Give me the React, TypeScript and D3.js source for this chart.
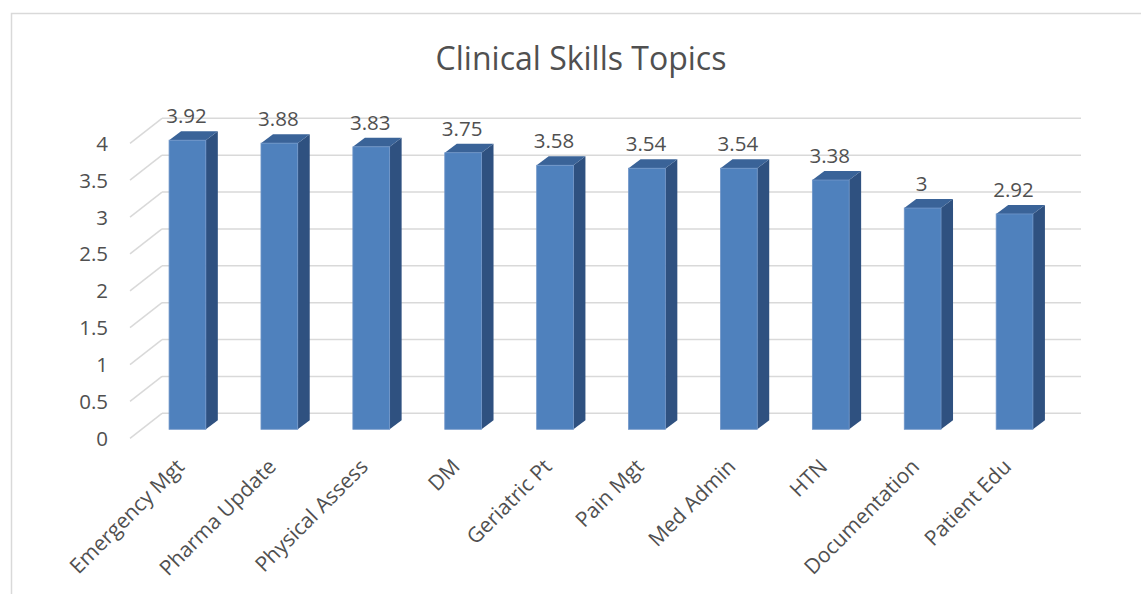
import React from 'react';
import * as d3 from 'd3';

const categories = ['Emergency Mgt', 'Pharma Update', 'Physical Assess', 'DM', 'Geriatric Pt', 'Pain Mgt', 'Med Admin', 'HTN', 'Documentation', 'Patient Edu'];
const scores = [3.92, 3.88, 3.83, 3.75, 3.58, 3.54, 3.54, 3.38, 3, 2.92];
const yTicks = [0, 0.5, 1, 1.5, 2, 2.5, 3, 3.5, 4];

const W = 1141;
const H = 594;
const FONT = '"Open Sans", sans-serif';
const TXT = '#505050';
const GRID = '#d9d9d9';

// depth offsets of the fake 3d box
const floorDx = -32, floorDy = 25;   // back wall -> front edge of floor
const barDx = -20.5, barDy = 16;     // back wall -> bar front face
const sideDx = 12, sideDy = -9;      // bar thickness

export default function App() {
  const x = d3.scaleBand().domain(categories).range([162, 1081]);
  const y = d3.scaleLinear().domain([0, 4]).range([413.3, 118.3]);
  const bw = x.bandwidth() * 0.4;

  return (
    <svg width={W} height={H} style={{position: 'absolute', left: 0, top: 0}} fontFamily={FONT}>
      <rect x={0} y={0} width={W} height={H} fill="#fff" />
      <path d={`M11.5,${H} V13.5 H${W}`} fill="none" stroke={GRID} strokeWidth={1.5} />

      <text x={581} y={70} textAnchor="middle" fontSize={32} fill={TXT}>Clinical Skills Topics</text>

      {yTicks.map(t => (
        <g key={t}>
          <line x1={x.range()[0]} x2={x.range()[1]} y1={y(t)} y2={y(t)} stroke={GRID} strokeWidth={1.5} />
          <line x1={x.range()[0] + floorDx} y1={y(t) + floorDy} x2={x.range()[0]} y2={y(t)} stroke={GRID} strokeWidth={1.5} />
          <text x={108} y={y(t) + floorDy + 2} textAnchor="end" dominantBaseline="middle" fontSize={20.5} fill={TXT}>{t}</text>
        </g>
      ))}

      {categories.map((c, i) => {
        const v = scores[i];
        const cx = (x(c) as number) + x.bandwidth() / 2 + barDx;
        const x0 = cx - bw / 2, x1 = cx + bw / 2;
        const yt = y(v) + barDy, yb = y(0) + barDy;
        return (
          <g key={c}>
            <path d={`M${x1},${yt} L${x1 + sideDx},${yt + sideDy} L${x1 + sideDx},${yb + sideDy} L${x1},${yb} Z`} fill="#2f5180" />
            <path d={`M${x0},${yt} L${x0 + sideDx},${yt + sideDy} L${x1 + sideDx},${yt + sideDy} L${x1},${yt} Z`} fill="#3a6398" />
            <rect x={x0} y={yt} width={bw} height={yb - yt} fill="#4f81bd" stroke="#6f95c8" strokeWidth={0.8} />
            <text x={cx - 1} y={yt + sideDy - 8} textAnchor="middle" fontSize={20.5} fill={TXT}>{v}</text>
            <text transform={`translate(${cx - 2},468) rotate(-45)`} textAnchor="end" fontSize={21} fill={TXT}>{c}</text>
          </g>
        );
      })}
    </svg>
  );
}
